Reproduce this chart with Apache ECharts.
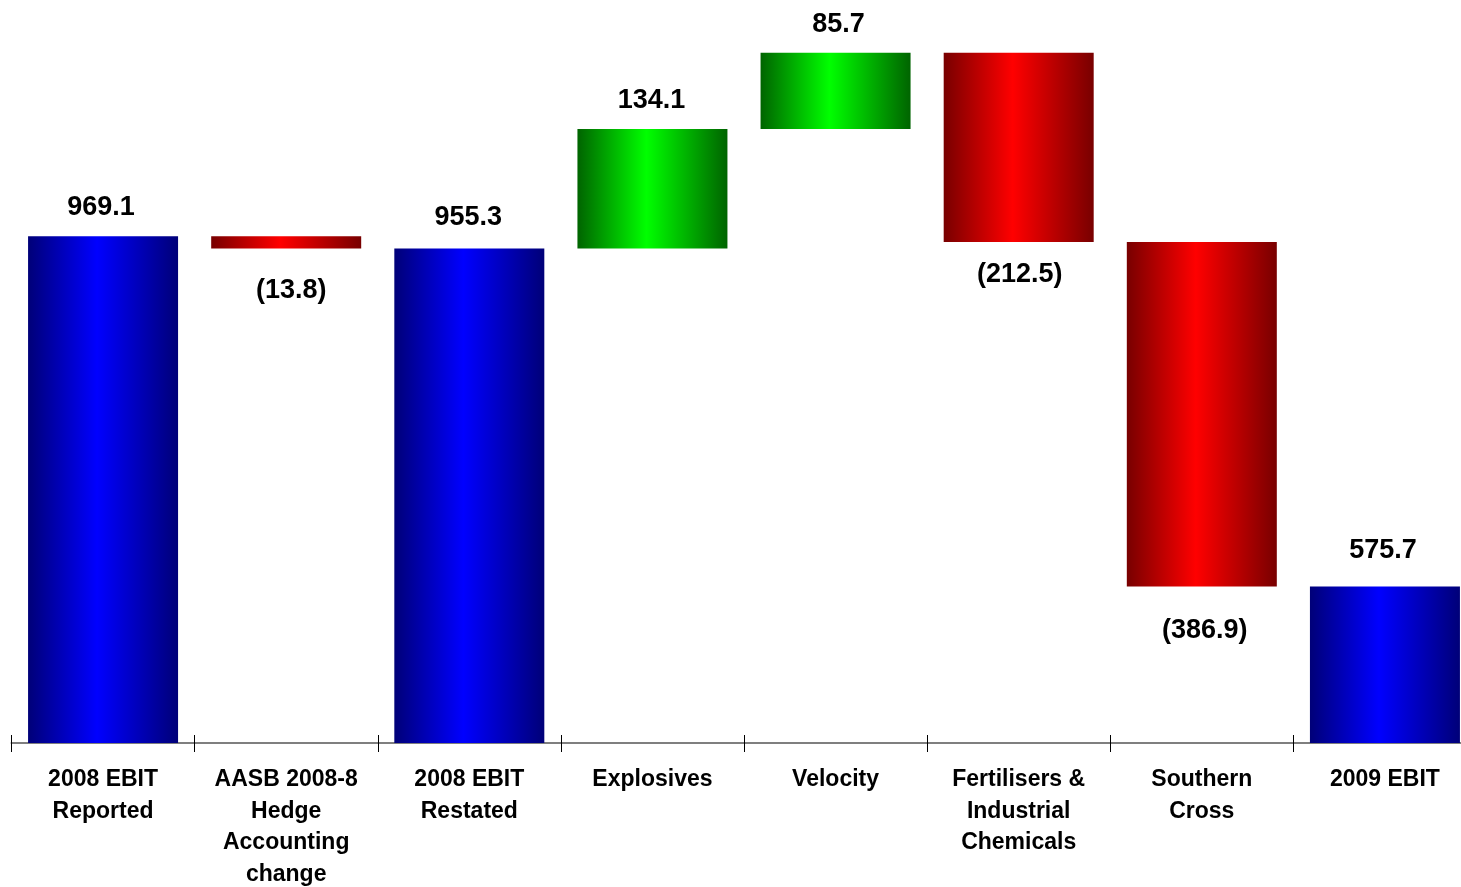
<!DOCTYPE html>
<html>
<head>
<meta charset="utf-8">
<title>EBIT bridge 2008 to 2009</title>
<script src="https://cdn.jsdelivr.net/npm/echarts@6/dist/echarts.min.js"></script>
<style>
  html, body { margin: 0; padding: 0; background: #ffffff; }
  #chart { width: 1461px; height: 887px; }
</style>
</head>
<body>
<div id="chart"></div>
<script>
// Bridge steps from 2008 EBIT to 2009 EBIT ($m)
const categories = [
  '2008 EBIT\nReported',
  'AASB 2008-8\nHedge\nAccounting\nchange',
  '2008 EBIT\nRestated',
  'Explosives',
  'Velocity',
  'Fertilisers &\nIndustrial\nChemicals',
  'Southern\nCross',
  '2009 EBIT'
];
// 'total' bars stand on the axis, 'delta' bars float from the running total
const stepKinds = ['total', 'delta', 'total', 'delta', 'delta', 'delta', 'delta', 'total'];
const stepValues = [969.1, -13.8, 955.3, 134.1, 85.7, -212.5, -386.9, 575.7];

// Gap between each bar end and its value label, and sideways nudge (px)
const labelGap = [15.5, 28.5, 17.5, 14.5, 14.5, 19.5, 30.5, 22.5];
const labelShift = [-2, 5, -1, -1, 3, 1, 3, -2];

const FONT = '"Liberation Sans", Arial, Helvetica, sans-serif';

function shade(edge, mid) {
  return new echarts.graphic.LinearGradient(0, 0, 1, 0, [
    { offset: 0, color: edge },
    { offset: 0.46, color: mid },
    { offset: 1, color: edge }
  ]);
}
const BLUE = shade('#000078', '#0000ff');
const GREEN = shade('#006400', '#00ff00');
const RED = shade('#780000', '#ff0000');

// Running totals -> invisible base + visible segment
const baseData = [];
const barData = [];
let running = 0;
stepValues.forEach(function (v, i) {
  let base, height, color, up;
  if (stepKinds[i] === 'total') {
    base = 0; height = v; color = BLUE; up = true; running = v;
  } else {
    const next = running + v;
    base = Math.min(running, next);
    height = Math.abs(v);
    color = v >= 0 ? GREEN : RED;
    up = v >= 0;
    running = next;
  }
  baseData.push(base);
  barData.push({
    value: height,
    itemStyle: { color: color },
    label: {
      position: up ? 'top' : 'bottom',
      distance: labelGap[i],
      offset: [labelShift[i], 0],
      formatter: up ? height.toFixed(1) : '(' + height.toFixed(1) + ')'
    }
  });
});

const chart = echarts.init(document.getElementById('chart'));
chart.setOption({
  animation: false,
  backgroundColor: '#ffffff',
  grid: {
    left: 11.5, width: 1465, top: 30.5, bottom: 144,
    containLabel: false,
    outerBoundsMode: 'none'
  },
  xAxis: [
    {
      type: 'category',
      data: categories,
      position: 'bottom',
      axisLine: { show: true, lineStyle: { color: '#7f7f7f', width: 2 } },
      axisTick: { show: true, length: 9, lineStyle: { color: '#000000', width: 1 } },
      axisLabel: {
        interval: 0,
        margin: 21,
        color: '#000000',
        fontFamily: FONT,
        fontWeight: 'bold',
        fontSize: 23,
        lineHeight: 31.5,
        align: 'center'
      },
      splitLine: { show: false }
    },
    {
      type: 'category',
      data: categories,
      position: 'bottom',
      axisLine: { show: false },
      axisTick: { show: true, inside: true, length: 8, lineStyle: { color: '#000000', width: 1 } },
      axisLabel: { show: false },
      splitLine: { show: false }
    }
  ],
  yAxis: {
    type: 'value',
    min: 400,
    max: 1200,
    show: false,
    splitLine: { show: false }
  },
  series: [
    {
      name: 'base',
      type: 'bar',
      stack: 'bridge',
      barWidth: 150,
      data: baseData,
      itemStyle: { color: 'rgba(0,0,0,0)' },
      silent: true
    },
    {
      name: 'EBIT',
      type: 'bar',
      stack: 'bridge',
      barWidth: 150,
      data: barData,
      label: {
        show: true,
        color: '#000000',
        fontFamily: FONT,
        fontWeight: 'bold',
        fontSize: 27,
        lineHeight: 27
      }
    }
  ]
});
</script>
</body>
</html>
